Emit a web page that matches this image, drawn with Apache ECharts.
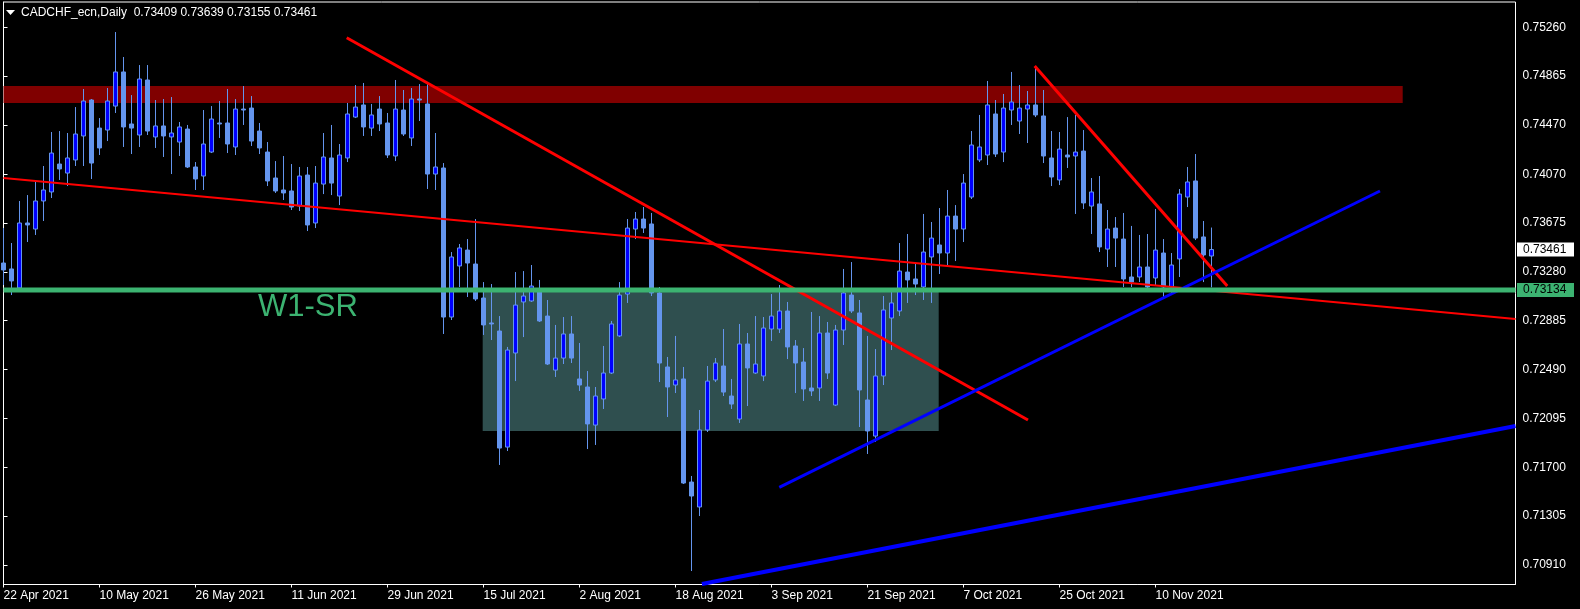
<!DOCTYPE html>
<html>
<head>
<meta charset="utf-8">
<title>CADCHF_ecn,Daily</title>
<script src="https://cdn.jsdelivr.net/npm/echarts@6/dist/echarts.min.js"></script>
<style>
  html, body { margin: 0; padding: 0; background: #000; }
  #chart { width: 1580px; height: 609px; }
</style>
</head>
<body>
<div id="chart"></div>
<script>
// daily bars 22 Apr 2021 .. 19 Nov 2021, x = bar index
const opens = [
  0.73352, 0.73304, 0.73150, 0.73676, 0.73627, 0.73854, 0.73927, 0.74153, 0.74080, 0.74186,
  0.74380, 0.74671, 0.74444, 0.74428, 0.74622, 0.74898, 0.74477, 0.74388, 0.74833, 0.74372,
  0.74461, 0.74372, 0.74331, 0.74436, 0.74129, 0.74056, 0.74250, 0.74485, 0.74485, 0.74291,
  0.74598, 0.74606, 0.74420, 0.74250, 0.74040, 0.73943, 0.73935, 0.73813, 0.74064, 0.73676,
  0.73991, 0.74202, 0.73894, 0.74202, 0.74533, 0.74631, 0.74444, 0.74598, 0.74485, 0.74218,
  0.74590, 0.74364, 0.74679, 0.74639, 0.74072, 0.74121, 0.72915, 0.73328, 0.73457, 0.73344,
  0.73069, 0.72867, 0.72802, 0.71863, 0.72624, 0.73037, 0.73045, 0.73126, 0.72923, 0.72486,
  0.72583, 0.72778, 0.72414, 0.72349, 0.72041, 0.72252, 0.72462, 0.72762, 0.73101, 0.73627,
  0.73708, 0.73668, 0.73110, 0.72511, 0.72365, 0.72414, 0.71580, 0.71378, 0.72001, 0.72406,
  0.72519, 0.72276, 0.72090, 0.72697, 0.72462, 0.72438, 0.72818, 0.72818, 0.72964, 0.72681,
  0.72551, 0.72341, 0.72341, 0.72786, 0.72203, 0.72810, 0.73093, 0.72948, 0.72244, 0.71952,
  0.72438, 0.72907, 0.72964, 0.73279, 0.73223, 0.73158, 0.73401, 0.73498, 0.73433, 0.73732,
  0.73627, 0.73886, 0.74186, 0.74226, 0.74558, 0.74250, 0.74590, 0.74501, 0.74598, 0.74631,
  0.74542, 0.74202, 0.74024, 0.74226, 0.74218, 0.74258, 0.73813, 0.73830, 0.73465, 0.73635,
  0.73546, 0.73239, 0.73239, 0.73320, 0.73231, 0.73433, 0.73158, 0.73385, 0.73886, 0.74016,
  0.73563, 0.73409
];
const highs = [
  0.73635, 0.73514, 0.73854, 0.73902, 0.74008, 0.74137, 0.74412, 0.74420, 0.74404, 0.74614,
  0.74760, 0.74679, 0.74525, 0.74768, 0.75221, 0.75019, 0.74711, 0.74954, 0.74954, 0.74671,
  0.74679, 0.74695, 0.74493, 0.74469, 0.74169, 0.74590, 0.74622, 0.74663, 0.74760, 0.74679,
  0.74784, 0.74703, 0.74485, 0.74331, 0.74177, 0.74218, 0.74153, 0.74129, 0.74129, 0.74137,
  0.74404, 0.74469, 0.74315, 0.74647, 0.74792, 0.74809, 0.74639, 0.74703, 0.74566, 0.74833,
  0.74752, 0.74768, 0.74800, 0.74800, 0.74404, 0.74161, 0.73441, 0.73506, 0.73546, 0.73708,
  0.73198, 0.73182, 0.72923, 0.72673, 0.73279, 0.73287, 0.73336, 0.73215, 0.73053, 0.72851,
  0.72915, 0.72923, 0.72705, 0.72478, 0.72349, 0.72681, 0.72883, 0.73198, 0.73708, 0.73765,
  0.73805, 0.73757, 0.73158, 0.72592, 0.72762, 0.72511, 0.71629, 0.72163, 0.72519, 0.72583,
  0.72818, 0.72414, 0.72859, 0.72786, 0.72923, 0.72915, 0.73101, 0.73174, 0.73037, 0.72729,
  0.72664, 0.72956, 0.72923, 0.72875, 0.72851, 0.73304, 0.73360, 0.73053, 0.72762, 0.72656,
  0.73085, 0.73118, 0.73514, 0.73587, 0.73352, 0.73749, 0.73684, 0.73797, 0.73943, 0.73821,
  0.74072, 0.74420, 0.74550, 0.74825, 0.74671, 0.74720, 0.74898, 0.74792, 0.74744, 0.74938,
  0.74752, 0.74420, 0.74412, 0.74533, 0.74550, 0.74428, 0.74040, 0.74056, 0.73781, 0.73724,
  0.73757, 0.73652, 0.73579, 0.73587, 0.73789, 0.73546, 0.73433, 0.73951, 0.74129, 0.74234,
  0.73692, 0.73639
];
const lows = [
  0.73174, 0.73093, 0.73134, 0.73522, 0.73579, 0.73692, 0.73878, 0.74024, 0.73975, 0.74137,
  0.74137, 0.74032, 0.74226, 0.74339, 0.74566, 0.74291, 0.74234, 0.74291, 0.74388, 0.74283,
  0.74210, 0.74072, 0.74218, 0.74121, 0.73943, 0.73943, 0.74242, 0.74364, 0.74242, 0.74226,
  0.74469, 0.74299, 0.74234, 0.73975, 0.73919, 0.73862, 0.73781, 0.73773, 0.73611, 0.73635,
  0.73910, 0.73902, 0.73821, 0.74169, 0.74525, 0.74380, 0.74380, 0.74420, 0.74202, 0.74177,
  0.74380, 0.74299, 0.74501, 0.73951, 0.73943, 0.72778, 0.72891, 0.73158, 0.73077, 0.73045,
  0.72770, 0.72729, 0.71718, 0.71831, 0.72397, 0.72753, 0.73037, 0.72875, 0.72527, 0.72430,
  0.72535, 0.72543, 0.72317, 0.71847, 0.71880, 0.72171, 0.72454, 0.72753, 0.73029, 0.73546,
  0.73595, 0.73085, 0.72389, 0.72106, 0.72300, 0.71564, 0.70860, 0.71305, 0.71985, 0.72389,
  0.72276, 0.72171, 0.72058, 0.72195, 0.72454, 0.72397, 0.72721, 0.72786, 0.72575, 0.72300,
  0.72236, 0.72276, 0.72236, 0.72414, 0.72195, 0.72689, 0.72948, 0.72025, 0.71807, 0.71904,
  0.72365, 0.72648, 0.72923, 0.73029, 0.73093, 0.73053, 0.73029, 0.73263, 0.73336, 0.73368,
  0.73522, 0.73870, 0.74169, 0.74145, 0.74210, 0.74169, 0.74469, 0.74396, 0.74323, 0.74533,
  0.74161, 0.73975, 0.73983, 0.74121, 0.73749, 0.73789, 0.73587, 0.73441, 0.73320, 0.73320,
  0.73158, 0.73158, 0.73198, 0.73134, 0.73174, 0.73069, 0.73093, 0.73239, 0.73805, 0.73538,
  0.73198, 0.73155
];
const closes = [
  0.73296, 0.73207, 0.73676, 0.73660, 0.73854, 0.73943, 0.74242, 0.74113, 0.74202, 0.74396,
  0.74663, 0.74161, 0.74283, 0.74663, 0.74898, 0.74453, 0.74444, 0.74841, 0.74420, 0.74461,
  0.74380, 0.74404, 0.74453, 0.74129, 0.74032, 0.74315, 0.74517, 0.74477, 0.74315, 0.74598,
  0.74590, 0.74339, 0.74283, 0.74016, 0.73935, 0.73919, 0.73805, 0.74056, 0.73660, 0.73999,
  0.74210, 0.73999, 0.74226, 0.74558, 0.74614, 0.74453, 0.74550, 0.74477, 0.74226, 0.74598,
  0.74396, 0.74679, 0.74671, 0.74072, 0.74129, 0.72915, 0.73401, 0.73474, 0.73352, 0.73061,
  0.72851, 0.72859, 0.71855, 0.72648, 0.73012, 0.73085, 0.73166, 0.72883, 0.72535, 0.72583,
  0.72778, 0.72583, 0.72365, 0.72050, 0.72276, 0.72462, 0.72859, 0.73093, 0.73635, 0.73708,
  0.73635, 0.73110, 0.72543, 0.72349, 0.72406, 0.71572, 0.71467, 0.72001, 0.72397, 0.72543,
  0.72308, 0.72211, 0.72697, 0.72503, 0.72535, 0.72826, 0.72923, 0.72964, 0.72673, 0.72543,
  0.72333, 0.72317, 0.72786, 0.72462, 0.72810, 0.73110, 0.72964, 0.72325, 0.71993, 0.72438,
  0.72972, 0.73029, 0.73287, 0.73215, 0.73182, 0.73441, 0.73554, 0.73433, 0.73732, 0.73627,
  0.73999, 0.74307, 0.74291, 0.74631, 0.74234, 0.74606, 0.74655, 0.74606, 0.74631, 0.74550,
  0.74218, 0.74048, 0.74274, 0.74210, 0.74250, 0.73838, 0.73927, 0.73482, 0.73627, 0.73554,
  0.73223, 0.73198, 0.73320, 0.73158, 0.73457, 0.73158, 0.73336, 0.73910, 0.74008, 0.73554,
  0.73417, 0.73461
];

const dateTickIdx = [0, 12, 24, 36, 48, 60, 72, 84, 96, 108, 120, 132, 144];
const dateTickLabels = ['22 Apr 2021', '10 May 2021', '26 May 2021', '11 Jun 2021', '29 Jun 2021',
  '15 Jul 2021', '2 Aug 2021', '18 Aug 2021', '3 Sep 2021', '21 Sep 2021', '7 Oct 2021',
  '25 Oct 2021', '10 Nov 2021'];
const priceTicks = [0.70910, 0.71305, 0.71700, 0.72095, 0.72490, 0.72885, 0.73280, 0.73675,
  0.74070, 0.74470, 0.74865, 0.75260];

// objects drawn on the chart: [xFrom, xTo, priceLow, priceHigh]
const resistBand = [0, 174.9, 0.74647, 0.74784];
const rangeBox = [59.9, 116.9, 0.71993, 0.73134];
const w1Level = 0.73134;
const lastPrice = 0.73461;
// trend lines: [[x, price], [x, price]]
const redLongLine = [[0, 0.74040], [189, 0.72899]];
const redDownLine = [[42.9, 0.75175], [128.06, 0.72082]];
const redShortLine = [[128.9, 0.74946], [152.97, 0.73166]];
const blueUpLine = [[96.97, 0.71537], [172.06, 0.73935]];
const blueLowLine = [[87.3, 0.70755], [189, 0.72033]];
const w1Line = [[0, w1Level], [189, w1Level]];

const font = 'Liberation Sans';
const candles = opens.map((o, i) => [i, o, closes[i], lows[i], highs[i]]);
const rectColors = ['#800000', '#2f4f4f'];

const chart = echarts.init(document.getElementById('chart'));

function renderRect(params, api) {
  const a = api.coord([api.value(0), api.value(3)]);
  const b = api.coord([api.value(1), api.value(2)]);
  return {
    type: 'rect',
    shape: { x: a[0], y: a[1], width: b[0] - a[0], height: b[1] - a[1] },
    style: { fill: rectColors[params.dataIndex] }
  };
}

function trend(data, color, width, z) {
  return {
    type: 'line',
    data: data,
    symbol: 'none',
    silent: true,
    z: z || 4,
    lineStyle: { color: color, width: width },
    animation: false
  };
}

chart.setOption({
  animation: false,
  backgroundColor: '#000',
  grid: {
    left: 3.5, right: 64.5, top: 2, bottom: 24.5,
    show: true, borderColor: '#fff', borderWidth: 1, backgroundColor: '#000',
    outerBoundsMode: 'none'
  },
  xAxis: {
    type: 'value', min: 0, max: 189,
    splitLine: { show: false },
    axisLine: { show: true, onZero: false, lineStyle: { color: '#fff' } },
    axisTick: { show: true, customValues: dateTickIdx, length: 3, lineStyle: { color: '#fff' } },
    axisLabel: {
      customValues: dateTickIdx,
      formatter: v => dateTickLabels[dateTickIdx.indexOf(v)] || '',
      color: '#fff', fontFamily: font, fontSize: 12, align: 'left', margin: 5
    }
  },
  yAxis: {
    type: 'value', position: 'right', min: 0.70751, max: 0.75464, scale: true,
    splitLine: { show: false },
    axisLine: { show: true, lineStyle: { color: '#fff' } },
    axisTick: { show: true, customValues: priceTicks, length: 4, lineStyle: { color: '#fff' } },
    axisLabel: {
      customValues: priceTicks,
      formatter: v => v.toFixed(5),
      color: '#fff', fontFamily: font, fontSize: 12, margin: 7
    }
  },
  series: [
    {
      type: 'custom',
      renderItem: renderRect,
      data: [resistBand, rangeBox],
      encode: { x: [0, 1], y: [2, 3] },
      clip: true,
      silent: true,
      z: 1
    },
    {
      type: 'candlestick',
      data: candles,
      barWidth: 5,
      z: 2,
      itemStyle: {
        color: '#0000ff', color0: '#6495ed',
        borderColor: '#6495ed', borderColor0: '#6495ed', borderColorDoji: '#6495ed',
        borderWidth: 1
      }
    },
    trend(redLongLine, '#ff0000', 2),
    trend(redDownLine, '#ff0000', 3),
    trend(redShortLine, '#ff0000', 3),
    trend(blueUpLine, '#0000ff', 3),
    trend(blueLowLine, '#0000ff', 4),
    trend(w1Line, '#3cb371', 5, 5)
  ]
});

const yLast = chart.convertToPixel({ yAxisIndex: 0 }, lastPrice);
const yLevel = chart.convertToPixel({ yAxisIndex: 0 }, w1Level);

chart.setOption({
  graphic: [
    { type: 'polygon', shape: { points: [[6, 10], [15, 10], [10.5, 15]] }, style: { fill: '#fff' } },
    {
      type: 'text', x: 21, y: 12.5,
      style: {
        text: 'CADCHF_ecn,Daily  0.73409 0.73639 0.73155 0.73461',
        fill: '#fff', font: '12px "' + font + '"', verticalAlign: 'middle'
      }
    },
    {
      type: 'text', x: 258, y: 307.5, z: 10,
      style: { text: 'W1-SR', fill: '#3cb371', font: '31px "' + font + '"', verticalAlign: 'middle' }
    },
    { type: 'rect', shape: { x: 1517, y: yLast - 7, width: 57, height: 14 }, style: { fill: '#fff' }, z: 10 },
    {
      type: 'text', x: 1523, y: yLast, z: 11,
      style: { text: lastPrice.toFixed(5), fill: '#000', font: '12px "' + font + '"', verticalAlign: 'middle' }
    },
    { type: 'rect', shape: { x: 1517, y: yLevel - 7, width: 57, height: 14 }, style: { fill: '#3cb371' }, z: 10 },
    {
      type: 'text', x: 1523, y: yLevel, z: 11,
      style: { text: w1Level.toFixed(5), fill: '#000', font: '12px "' + font + '"', verticalAlign: 'middle' }
    }
  ]
});
</script>
</body>
</html>
